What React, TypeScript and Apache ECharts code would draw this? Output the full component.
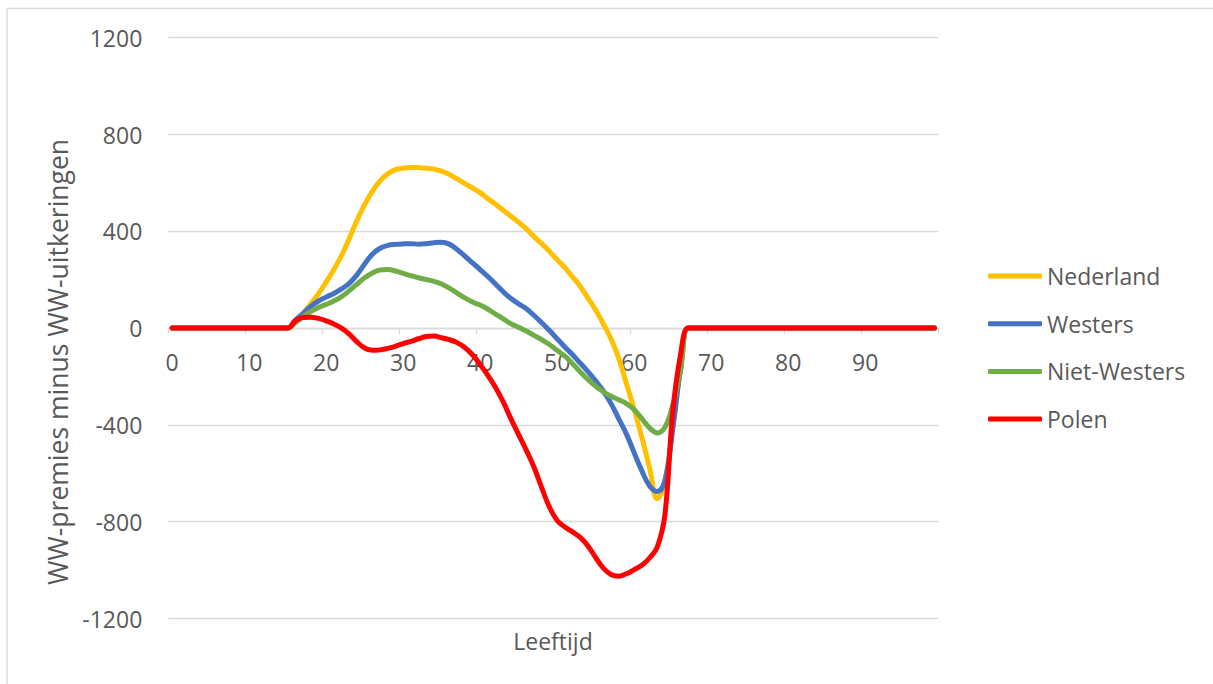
import React, { useEffect, useRef } from "react";
import * as echarts from "echarts";

const ages: string[] = Array.from({ length: 100 }, (_, i) => String(i));

const yTicks = { min: -1200, max: 1200, step: 400 };

const seriesNames = ["Nederland", "Westers", "Niet-Westers", "Polen"];
const seriesColors = ["#FFC000", "#4472C4", "#70AD47", "#FF0000"];

// ages 0..99
const nederland = [
  0, 0, 0, 0, 0, 0, 0, 0, 0, 0, 0, 0, 0, 0, 0, 0,
  25, 60, 100, 142, 190, 242, 300, 370, 445, 510, 565, 608, 638, 655,
  661, 664, 663, 661, 657, 649, 635, 617, 597, 579,
  560, 535, 512, 487, 462, 437, 410, 378, 349, 317,
  283, 250, 212, 172, 124, 75, 18, -45, -125, -230,
  -335, -452, -578, -705, -630, -415, -170, 0,
  0, 0, 0, 0, 0, 0, 0, 0, 0, 0, 0, 0, 0, 0, 0, 0,
  0, 0, 0, 0, 0, 0, 0, 0, 0, 0, 0, 0, 0, 0, 0, 0,
];

const westers = [
  0, 0, 0, 0, 0, 0, 0, 0, 0, 0, 0, 0, 0, 0, 0, 0,
  33, 60, 90, 112, 128, 143, 162, 185, 220, 265, 305, 330, 342, 346,
  348, 349, 347, 349, 353, 355, 347, 325, 298, 270,
  242, 213, 182, 150, 122, 100, 80, 52, 22, -10,
  -44, -78, -110, -145, -180, -218, -260, -312, -375, -438,
  -515, -590, -652, -675, -630, -420, -175, 0,
  0, 0, 0, 0, 0, 0, 0, 0, 0, 0, 0, 0, 0, 0, 0, 0,
  0, 0, 0, 0, 0, 0, 0, 0, 0, 0, 0, 0, 0, 0, 0, 0,
];

const nietWesters = [
  0, 0, 0, 0, 0, 0, 0, 0, 0, 0, 0, 0, 0, 0, 0, 0,
  22, 48, 68, 85, 98, 112, 130, 155, 182, 208, 228, 240, 242, 236,
  226, 217, 208, 201, 193, 182, 165, 145, 125, 108,
  95, 78, 58, 38, 18, 3, -12, -30, -48, -68,
  -92, -116, -147, -181, -212, -240, -263, -282, -296, -312,
  -337, -374, -412, -433, -410, -320, -180, 0,
  0, 0, 0, 0, 0, 0, 0, 0, 0, 0, 0, 0, 0, 0, 0, 0,
  0, 0, 0, 0, 0, 0, 0, 0, 0, 0, 0, 0, 0, 0, 0, 0,
];

const polen = [
  0, 0, 0, 0, 0, 0, 0, 0, 0, 0, 0, 0, 0, 0, 0, 0,
  30, 44, 45, 40, 30, 17, 0, -25, -57, -82, -92, -90, -84, -75,
  -64, -55, -44, -35, -33, -40, -48, -60, -80, -110,
  -150, -195, -245, -305, -375, -440, -505, -575, -660, -740,
  -795, -822, -842, -865, -900, -948, -992, -1018, -1025, -1015,
  -998, -980, -950, -905, -770, -350, -115, 0,
  0, 0, 0, 0, 0, 0, 0, 0, 0, 0, 0, 0, 0, 0, 0, 0,
  0, 0, 0, 0, 0, 0, 0, 0, 0, 0, 0, 0, 0, 0, 0, 0,
];

const seriesData = [nederland, westers, nietWesters, polen];

const FONT = "'Open Sans', sans-serif";
const TEXT = "#595959";
const GRID = "#d9d9d9";

const GRID_TOP = 37.7;
const GRID_BOTTOM_Y = 618.5;
const H = 684;

export default function App() {
  const ref = useRef<HTMLDivElement>(null);
  useEffect(() => {
    const chart = echarts.init(ref.current as HTMLDivElement, null, { renderer: "svg" });
    // zero line position inside the plot (yAxis is symmetric)
    const zeroY = GRID_TOP + ((yTicks.max - 0) / (yTicks.max - yTicks.min)) * (GRID_BOTTOM_Y - GRID_TOP);
    chart.setOption({
      animation: false,
      backgroundColor: "#ffffff",
      grid: { left: 168.3, right: 274.7, top: GRID_TOP, bottom: H - GRID_BOTTOM_Y, containLabel: false },
      xAxis: {
        type: "category",
        data: ages,
        boundaryGap: true,
        position: "bottom",
        offset: -(GRID_BOTTOM_Y - zeroY),
        axisLine: { onZero: false, lineStyle: { color: GRID, width: 1.3 } },
        axisTick: { show: true, interval: 9, length: 6, lineStyle: { color: GRID, width: 1.3 } },
        axisLabel: { interval: 9, color: TEXT, fontFamily: FONT, fontSize: 23, margin: 22 },
        splitLine: { show: false },
      },
      yAxis: {
        type: "value",
        min: yTicks.min,
        max: yTicks.max,
        interval: yTicks.step,
        axisLine: { show: false },
        axisTick: { show: false },
        axisLabel: {
          color: TEXT,
          fontFamily: FONT,
          fontSize: 23,
          margin: 26,
          formatter: (v: number) => String(v),
        },
        splitLine: { lineStyle: { color: GRID, width: 1.3 } },
      },
      legend: {
        orient: "vertical",
        left: 988,
        top: 264,
        padding: 0,
        itemWidth: 54,
        itemHeight: 5,
        itemGap: 23.7,
        icon: "roundRect",
        textStyle: { color: TEXT, fontFamily: FONT, fontSize: 23, padding: [0, 0, 0, 0], lineHeight: 24 },
        data: seriesNames,
      },
      series: seriesNames.map((name, i) => ({
        name,
        type: "line",
        data: seriesData[i],
        smooth: 0.4,
        symbol: "none",
        showSymbol: false,
        lineStyle: { color: seriesColors[i], width: 5, cap: "round", join: "round" },
        itemStyle: { color: seriesColors[i] },
      })),
      graphic: [
        { type: "line", shape: { x1: 7, y1: 8.5, x2: 1213, y2: 8.5 }, style: { stroke: GRID, lineWidth: 1.3 } },
        { type: "line", shape: { x1: 7, y1: 8.5, x2: 7, y2: 684 }, style: { stroke: GRID, lineWidth: 1.3 } },
        {
          type: "text",
          x: 58,
          y: 362,
          rotation: Math.PI / 2,
          style: {
            text: "WW-premies minus WW-uitkeringen",
            fill: TEXT,
            fontFamily: FONT,
            fontSize: 26.5,
            align: "center",
            verticalAlign: "middle",
          },
        },
        {
          type: "text",
          x: 553,
          y: 641,
          style: {
            text: "Leeftijd",
            fill: TEXT,
            fontFamily: FONT,
            fontSize: 23,
            align: "center",
            verticalAlign: "middle",
          },
        },
      ],
    });
    return () => chart.dispose();
  }, []);
  return (
    <div
      ref={ref}
      style={{ position: "fixed", left: 0, top: 0, width: 1213, height: 684, background: "#fff" }}
    />
  );
}
